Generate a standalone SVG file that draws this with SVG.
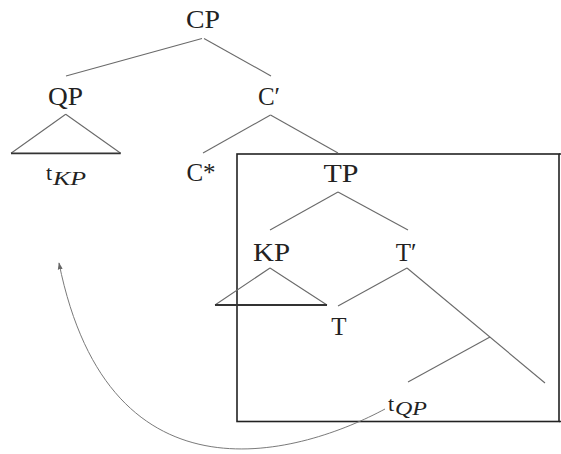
<svg xmlns="http://www.w3.org/2000/svg" width="561" height="454" viewBox="0 0 561 454">
<style>
.lbl{font-family:"Liberation Serif","DejaVu Serif",serif;font-size:25px;fill:#222;text-anchor:middle}
.t{font-family:"Liberation Serif","DejaVu Serif",serif;font-size:22px;fill:#222}
.sub{font-family:"Liberation Serif","DejaVu Serif",serif;font-size:19px;font-style:italic;fill:#222}
.edge{stroke:#6a6a6a;stroke-width:1.1;fill:none}
.tri{stroke:#6a6a6a;stroke-width:1.1;fill:none}
.base{stroke:#333;stroke-width:1.8}
.box{stroke:#222;stroke-width:1.6;fill:none}
.move{stroke:#7a7a7a;stroke-width:1;fill:none}
</style>
<defs>
<marker id="ah" viewBox="0 0 10 10" refX="9" refY="5" markerWidth="7" markerHeight="7" orient="auto" markerUnits="userSpaceOnUse">
<path d="M0,1.5 L10,5 L0,8.5 Z" fill="#666"/>
</marker>
</defs>
<rect width="561" height="454" fill="#fff"/>
<g id="box"><rect class="box" x="237" y="154" width="322" height="267.5"/><line class="box" x1="559" y1="154" x2="561" y2="154"/><line class="box" x1="559" y1="421.5" x2="561" y2="421.5"/></g>
<g id="connectors">
<line class="edge" x1="202" y1="38.5" x2="66" y2="76"/>
<line class="edge" x1="204" y1="38.5" x2="271" y2="76"/>
<line class="edge" x1="270.5" y1="115" x2="203" y2="153"/>
<line class="edge" x1="270.5" y1="115" x2="338" y2="153"/>
<line class="edge" x1="338" y1="192" x2="270" y2="230"/>
<line class="edge" x1="338" y1="192" x2="408" y2="230"/>
<line class="edge" x1="407" y1="268" x2="338" y2="306"/>
<line class="edge" x1="407" y1="268" x2="545" y2="383"/>
<line class="edge" x1="490" y1="337" x2="408" y2="382"/>
<path class="move" d="M385,409 C305,452 110,515 59,263" marker-end="url(#ah)"/>
</g>
<g id="CP"><text class="lbl" x="203" y="28" textLength="34" lengthAdjust="spacingAndGlyphs">CP</text></g>
<g id="QP"><text class="lbl" x="65.5" y="105" textLength="35" lengthAdjust="spacingAndGlyphs">QP</text>
<path class="tri" d="M65.7,114.3 L11,153.3 M65.7,114.3 L120.7,153.3"/>
<line class="base" x1="11" y1="153.3" x2="120.7" y2="153.3"/></g>
<g id="tKP"><text class="t" x="46" y="180">t</text><text class="sub" x="53" y="185" textLength="33" lengthAdjust="spacingAndGlyphs">KP</text></g>
<g id="Cbar"><text class="lbl" x="269" y="105">C′</text></g>
<g id="Cstar"><text class="lbl" x="201" y="181">C*</text></g>
<g id="TP"><text class="lbl" x="341" y="182" textLength="35" lengthAdjust="spacingAndGlyphs">TP</text></g>
<g id="KP"><text class="lbl" x="271.5" y="261" textLength="37" lengthAdjust="spacingAndGlyphs">KP</text>
<path class="tri" d="M270,268 L215,305 M270,268 L327,305"/>
<line class="base" x1="215" y1="305" x2="327" y2="305"/></g>
<g id="Tbar"><text class="lbl" x="406" y="261">T′</text></g>
<g id="T"><text class="lbl" x="339" y="335">T</text></g>
<g id="tQP"><text class="t" x="388" y="411">t</text><text class="sub" x="395" y="415" textLength="32" lengthAdjust="spacingAndGlyphs">QP</text></g>
</svg>
